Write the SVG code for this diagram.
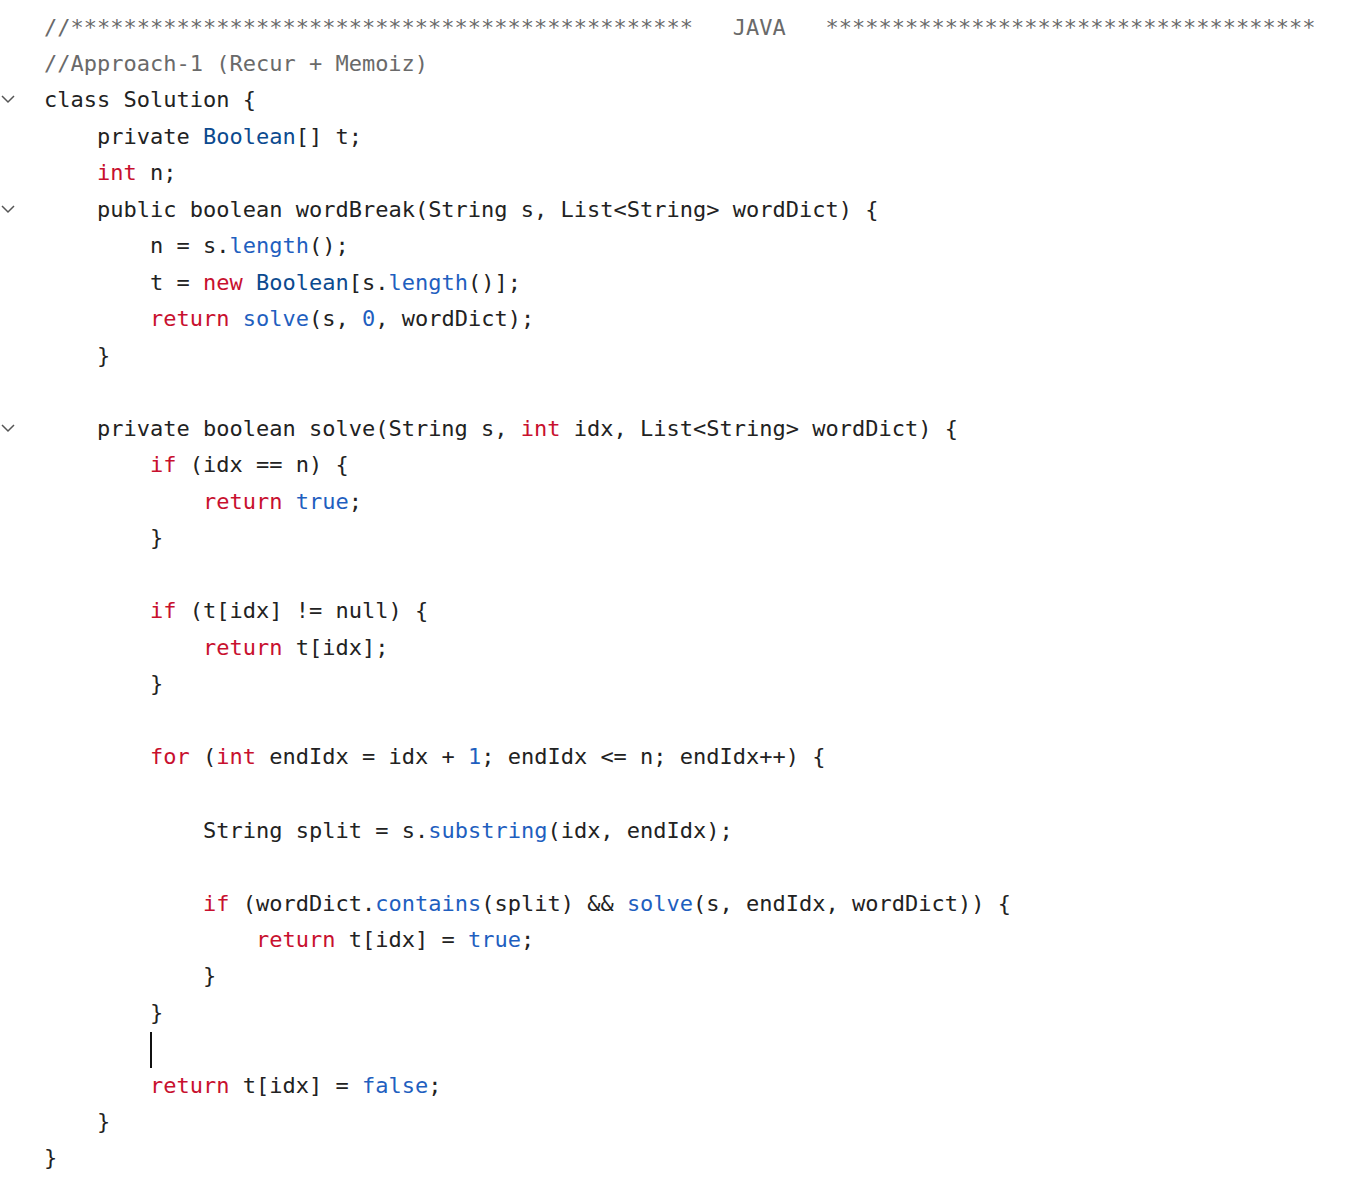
<svg xmlns="http://www.w3.org/2000/svg" width="1358" height="1185" viewBox="0 0 1358 1185">
<style>
text{font-family:"DejaVu Sans Mono","Liberation Mono",monospace;font-size:22px;fill:#222;white-space:pre}
.c{fill:#6a6a6a}.k{fill:#c8102e}.b{fill:#1f5fbf}.t{fill:#0b4a8f}
.ch{fill:none;stroke:#555;stroke-width:1.5}
</style>
<rect width="1358" height="1185" fill="#fff"/>
<g id="folds"><path class="ch" d="M2 96 L8 102 L14 96"/><path class="ch" d="M2 206 L8 212 L14 206"/><path class="ch" d="M2 425 L8 431 L14 425"/></g>
<g id="code" xml:space="preserve">
<text x="44" y="35" class="c">//***********************************************   JAVA   *************************************</text>
<text x="44" y="71" class="c">//Approach-1 (Recur + Memoiz)</text>
<text x="44" y="107">class Solution {</text>
<text x="97" y="144">private <tspan class="t">Boolean</tspan>[] t;</text>
<text x="97" y="180"><tspan class="k">int</tspan> n;</text>
<text x="97" y="217">public boolean wordBreak(String s, List&lt;String&gt; wordDict) {</text>
<text x="150" y="253">n = s.<tspan class="b">length</tspan>();</text>
<text x="150" y="290">t = <tspan class="k">new</tspan> <tspan class="t">Boolean</tspan>[s.<tspan class="b">length</tspan>()];</text>
<text x="150" y="326"><tspan class="k">return</tspan> <tspan class="b">solve</tspan>(s, <tspan class="b">0</tspan>, wordDict);</text>
<text x="97" y="363">}</text>
<text x="97" y="436">private boolean solve(String s, <tspan class="k">int</tspan> idx, List&lt;String&gt; wordDict) {</text>
<text x="150" y="472"><tspan class="k">if</tspan> (idx == n) {</text>
<text x="203" y="509"><tspan class="k">return</tspan> <tspan class="b">true</tspan>;</text>
<text x="150" y="545">}</text>
<text x="150" y="618"><tspan class="k">if</tspan> (t[idx] != null) {</text>
<text x="203" y="655"><tspan class="k">return</tspan> t[idx];</text>
<text x="150" y="691">}</text>
<text x="150" y="764"><tspan class="k">for</tspan> (<tspan class="k">int</tspan> endIdx = idx + <tspan class="b">1</tspan>; endIdx &lt;= n; endIdx++) {</text>
<text x="203" y="838">String split = s.<tspan class="b">substring</tspan>(idx, endIdx);</text>
<text x="203" y="911"><tspan class="k">if</tspan> (wordDict.<tspan class="b">contains</tspan>(split) &amp;&amp; <tspan class="b">solve</tspan>(s, endIdx, wordDict)) {</text>
<text x="256" y="947"><tspan class="k">return</tspan> t[idx] = <tspan class="b">true</tspan>;</text>
<text x="203" y="983">}</text>
<text x="150" y="1020">}</text>
<text x="150" y="1093"><tspan class="k">return</tspan> t[idx] = <tspan class="b">false</tspan>;</text>
<text x="97" y="1129">}</text>
<text x="44" y="1165">}</text>
</g>
<rect id="cursor" x="150" y="1032" width="2" height="36" fill="#111"/>
</svg>
